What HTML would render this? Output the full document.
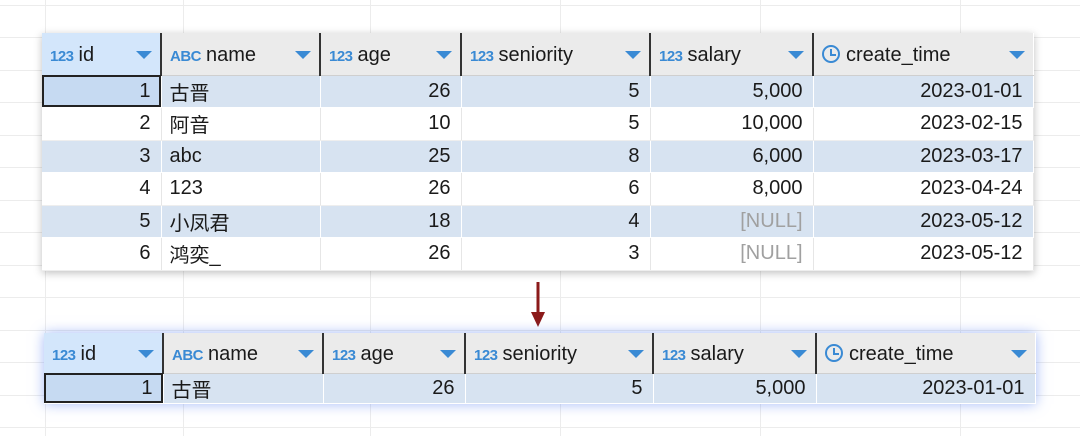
<!DOCTYPE html>
<html><head><meta charset="utf-8"><style>
body{margin:0;width:1080px;height:436px;background:#fff;position:relative;overflow:hidden;font-family:"Liberation Sans","Noto Sans CJK SC",sans-serif;}
.gh{position:absolute;left:0;width:1080px;height:1px;background:#ececec}
.gv{position:absolute;top:0;height:436px;width:1px;background:#ececec}
table{position:absolute;border-collapse:collapse;table-layout:fixed;background:#fff;font-size:20px;color:#1a1a1a}
td{padding:0 10px 0 8px;white-space:nowrap;overflow:hidden;border-right:1px solid #e6e6e6;border-bottom:1px solid #eeeeee}
tr.a td{border-right:1px solid #fff;border-bottom:1px solid #fff}
td.r{text-align:right}
tr.h td{background:#ebebeb;border-right:2px solid #333;border-bottom:1px solid #cfcfcf;position:relative;padding-top:3px}
tr.h td:last-child{border-right:none}
tr.h td.sel{background:#d3e6fb}
.t{color:#3a8ad4;font-size:15px;margin-right:5px;font-weight:bold;letter-spacing:-0.5px}
.tri{position:absolute;right:8px;top:50%;margin-top:-3px;width:0;height:0;border-left:8px solid transparent;border-right:8px solid transparent;border-top:8px solid #3a8ad4}
tr.a td{background:#d7e3f1}
td.c{background:#c6daf2 !important;outline:2px solid #222;outline-offset:-2px}
.null{color:#a0a0a0}
.clk{display:inline-block;width:18px;height:18px;border:2px solid #3a8ad4;border-radius:50%;box-sizing:border-box;vertical-align:-2px;margin-right:6px;position:relative}
.clk:after{content:"";position:absolute;left:6px;top:2px;width:4px;height:5px;border-left:2px solid #3a8ad4;border-bottom:2px solid #3a8ad4}
</style></head><body>
<div class="gh" style="top:5px"></div><div class="gh" style="top:37px"></div><div class="gh" style="top:70px"></div><div class="gh" style="top:102px"></div><div class="gh" style="top:135px"></div><div class="gh" style="top:167px"></div><div class="gh" style="top:200px"></div><div class="gh" style="top:232px"></div><div class="gh" style="top:265px"></div><div class="gh" style="top:297px"></div><div class="gh" style="top:330px"></div><div class="gh" style="top:362px"></div><div class="gh" style="top:395px"></div><div class="gh" style="top:427px"></div>
<div class="gv" style="left:45px"></div><div class="gv" style="left:183px"></div><div class="gv" style="left:370px"></div><div class="gv" style="left:560px"></div><div class="gv" style="left:760px"></div><div class="gv" style="left:960px"></div>

<table style="left:42px;top:33px;width:991px;box-shadow:0 2px 8px rgba(0,0,0,.25)">
<colgroup><col style="width:119px"><col style="width:159px"><col style="width:141px"><col style="width:189px"><col style="width:163px"><col style="width:220px"></colgroup>
<tr class="h" style="height:42px"><td class="sel"><span class="t">123</span>id<span class="tri"></span></td><td><span class="t">ABC</span>name<span class="tri"></span></td><td><span class="t">123</span>age<span class="tri"></span></td><td><span class="t">123</span>seniority<span class="tri"></span></td><td><span class="t">123</span>salary<span class="tri"></span></td><td><span class="clk"></span>create_time<span class="tri"></span></td></tr>
<tr class="a" style="height:32px"><td class="r c">1</td><td>古晋</td><td class="r">26</td><td class="r">5</td><td class="r">5,000</td><td class="r">2023-01-01</td></tr>
<tr style="height:33px"><td class="r">2</td><td>阿音</td><td class="r">10</td><td class="r">5</td><td class="r">10,000</td><td class="r">2023-02-15</td></tr>
<tr class="a" style="height:32px"><td class="r">3</td><td>abc</td><td class="r">25</td><td class="r">8</td><td class="r">6,000</td><td class="r">2023-03-17</td></tr>
<tr style="height:33px"><td class="r">4</td><td>123</td><td class="r">26</td><td class="r">6</td><td class="r">8,000</td><td class="r">2023-04-24</td></tr>
<tr class="a" style="height:32px"><td class="r">5</td><td>小凤君</td><td class="r">18</td><td class="r">4</td><td class="r null">[NULL]</td><td class="r">2023-05-12</td></tr>
<tr style="height:33px"><td class="r">6</td><td>鸿奕_</td><td class="r">26</td><td class="r">3</td><td class="r null">[NULL]</td><td class="r">2023-05-12</td></tr>
</table>

<svg style="position:absolute;left:530px;top:282px" width="16" height="46"><line x1="8" y1="0" x2="8" y2="36" stroke="#8b1a1a" stroke-width="3"/><polygon points="1,30 15,30 8,45" fill="#8b1a1a"/></svg>

<table style="left:44px;top:333px;width:991px;box-shadow:0 0 12px rgba(90,130,240,.55)">
<colgroup><col style="width:119px"><col style="width:160px"><col style="width:142px"><col style="width:188px"><col style="width:163px"><col style="width:219px"></colgroup>
<tr class="h" style="height:40px"><td class="sel"><span class="t">123</span>id<span class="tri"></span></td><td><span class="t">ABC</span>name<span class="tri"></span></td><td><span class="t">123</span>age<span class="tri"></span></td><td><span class="t">123</span>seniority<span class="tri"></span></td><td><span class="t">123</span>salary<span class="tri"></span></td><td><span class="clk"></span>create_time<span class="tri"></span></td></tr>
<tr class="a" style="height:30px"><td class="r c">1</td><td>古晋</td><td class="r">26</td><td class="r">5</td><td class="r">5,000</td><td class="r">2023-01-01</td></tr>
</table>
</body></html>
